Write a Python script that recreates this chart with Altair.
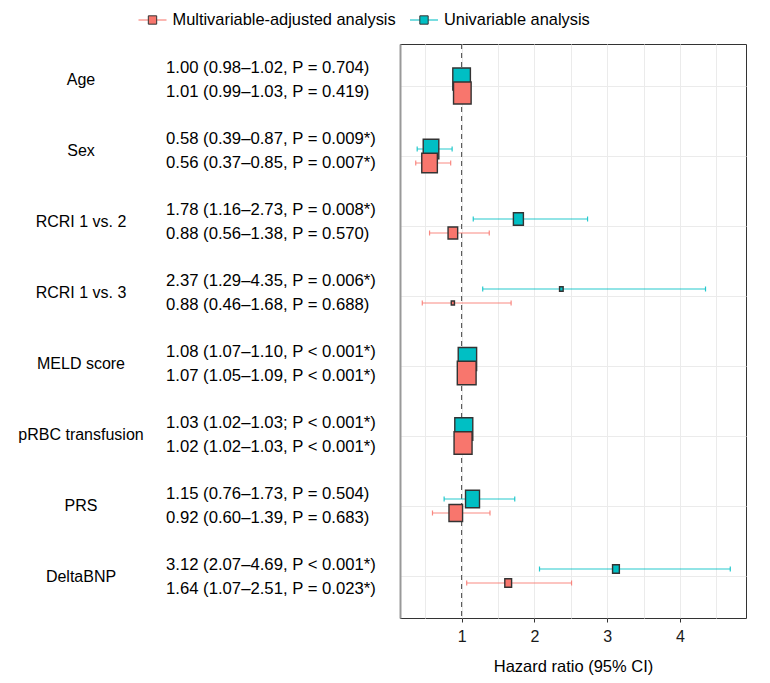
import altair as alt
import pandas as pd

UNI = "Univariable analysis"
MULTI = "Multivariable-adjusted analysis"

names = ["Age", "Sex", "RCRI 1 vs. 2", "RCRI 1 vs. 3", "MELD score",
         "pRBC transfusion", "PRS", "DeltaBNP"]

uni_hr = [1.00, 0.58, 1.78, 2.37, 1.08, 1.03, 1.15, 3.12]
uni_lo = [0.98, 0.39, 1.16, 1.29, 1.07, 1.02, 0.76, 2.07]
uni_hi = [1.02, 0.87, 2.73, 4.35, 1.10, 1.03, 1.73, 4.69]
uni_weight = [88, 78, 50, 18, 92, 90, 70, 34]
uni_labels = ["1.00 (0.98–1.02, P = 0.704)", "0.58 (0.39–0.87, P = 0.009*)",
              "1.78 (1.16–2.73, P = 0.008*)", "2.37 (1.29–4.35, P = 0.006*)",
              "1.08 (1.07–1.10, P < 0.001*)", "1.03 (1.02–1.03; P < 0.001*)",
              "1.15 (0.76–1.73, P = 0.504)", "3.12 (2.07–4.69, P < 0.001*)"]

multi_hr = [1.01, 0.56, 0.88, 0.88, 1.07, 1.02, 0.92, 1.64]
multi_lo = [0.99, 0.37, 0.56, 0.46, 1.05, 1.02, 0.60, 1.07]
multi_hi = [1.03, 0.85, 1.38, 1.68, 1.09, 1.03, 1.39, 2.51]
multi_weight = [88, 78, 48, 16, 94, 90, 68, 34]
multi_labels = ["1.01 (0.99–1.03, P = 0.419)", "0.56 (0.37–0.85, P = 0.007*)",
                "0.88 (0.56–1.38, P = 0.570)", "0.88 (0.46–1.68, P = 0.688)",
                "1.07 (1.05–1.09, P < 0.001*)", "1.02 (1.02–1.03, P < 0.001*)",
                "0.92 (0.60–1.39, P = 0.683)", "1.64 (1.07–2.51, P = 0.023*)"]

reference_line = [1.0]
x_ticks = [0.5, 1, 1.5, 2, 2.5, 3, 3.5, 4, 4.5]

RED = "#F8766D"
TEAL = "#00BFC4"
FONT = "Liberation Sans"

rows = []
for i, n in enumerate(names):
    rows.append(dict(var=n, group=UNI, hr=uni_hr[i], lo=uni_lo[i], hi=uni_hi[i],
                     weight=uni_weight[i], label=uni_labels[i]))
for i, n in enumerate(names):
    rows.append(dict(var=n, group=MULTI, hr=multi_hr[i], lo=multi_lo[i], hi=multi_hi[i],
                     weight=multi_weight[i], label=multi_labels[i]))
df = pd.DataFrame(rows)

xmin = min(uni_lo + multi_lo)
xmax = max(uni_hi + multi_hi)
pad = 0.05 * (xmax - xmin)

color_scale = alt.Scale(domain=[MULTI, UNI], range=[RED, TEAL])
x_scale = alt.Scale(domain=[xmin - pad, xmax + pad], nice=False, zero=False)
x_axis = alt.Axis(
    values=x_ticks,
    labelExpr="datum.value % 1 === 0 ? format(datum.value, 'd') : ''",
    tickOpacity={"condition": {"test": "datum.value % 1 === 0", "value": 1}, "value": 0},
    grid=True, gridColor="#EBEBEB", gridWidth=1,
    title="Hazard ratio (95% CI)", titleFontSize=16.5, titleFontWeight="normal",
    titleColor="#000000", titlePadding=14,
    labelFontSize=16, labelColor="#1a1a1a", labelPadding=6,
    tickSize=4, tickColor="#333333", domain=False,
)
y_scale = alt.Scale(type="band", paddingInner=0, paddingOuter=0.1)
y_enc = alt.Y("var:N", sort=names, scale=y_scale,
              axis=alt.Axis(title=None, labels=False, ticks=False, grid=True,
                            bandPosition=0.5, gridColor="#EBEBEB", gridWidth=1,
                            domainColor="#999999", domainWidth=2))
y_off = alt.YOffset("group:N", scale=alt.Scale(type="point", domain=[UNI, MULTI],
                                                range=[28, 42], padding=0))
col_enc = alt.Color("group:N", scale=color_scale, legend=None)

base = alt.Chart(df)

vline = alt.Chart(pd.DataFrame({"ref": reference_line})).mark_rule(
    strokeDash=[5, 4], color="#555555", strokeWidth=1.1
).encode(x=alt.X("ref:Q", scale=x_scale, axis=x_axis))

err = base.mark_rule(strokeWidth=1.2, opacity=0.85).encode(
    x=alt.X("lo:Q", scale=x_scale, axis=x_axis), x2="hi:Q",
    y=y_enc, yOffset=y_off, color=col_enc)

cap_lo = base.mark_tick(orient="vertical", size=5, thickness=1.2, opacity=0.85).encode(
    x=alt.X("lo:Q", scale=x_scale, axis=x_axis), y=y_enc, yOffset=y_off, color=col_enc)
cap_hi = base.mark_tick(orient="vertical", size=5, thickness=1.2, opacity=0.85).encode(
    x=alt.X("hi:Q", scale=x_scale, axis=x_axis), y=y_enc, yOffset=y_off, color=col_enc)

BOX = "M-0.8,-1L0.8,-1L0.8,1L-0.8,1Z"
pts = base.mark_point(shape=BOX, filled=True, stroke="#333333", strokeWidth=1.4,
                      opacity=1).encode(
    x=alt.X("hr:Q", scale=x_scale, axis=x_axis), y=y_enc, yOffset=y_off,
    fill=alt.Fill("group:N", scale=color_scale, legend=None),
    size=alt.Size("weight:Q", scale=alt.Scale(type="pow", exponent=2, domain=[0, 100],
                                              range=[0, 625]), legend=None),
)

right = alt.layer(vline, err, cap_lo, cap_hi, pts).properties(
    width=346, height=574,
    view=alt.ViewBackground(stroke="#333333", strokeWidth=1))

y_left = alt.Y("var:N", sort=names,
               scale=alt.Scale(type="band", paddingInner=0, paddingOuter=0), axis=None)
name_text = alt.Chart(pd.DataFrame({"var": names})).mark_text(
    align="center", baseline="middle", fontSize=16, font=FONT, color="#000000"
).encode(x=alt.value(72), y=y_left, text="var:N")
uni_text = base.transform_filter(alt.datum.group == UNI).mark_text(
    align="left", baseline="middle", fontSize=16.7, font=FONT, color="#000000", dy=-12
).encode(x=alt.value(157), y=y_left, text="label:N")
multi_text = base.transform_filter(alt.datum.group == MULTI).mark_text(
    align="left", baseline="middle", fontSize=16.7, font=FONT, color="#000000", dy=12
).encode(x=alt.value(157), y=y_left, text="label:N")
left = alt.layer(name_text, uni_text, multi_text).properties(width=389, height=568)

leg_df = pd.DataFrame({"group": [MULTI, UNI]})
leg_x = alt.X("group:N", scale=alt.Scale(type="point", domain=[MULTI, UNI],
                                         range=[143.5, 415], padding=0), axis=None)
leg_line = alt.Chart(leg_df).mark_tick(orient="horizontal", size=28, thickness=1.5,
                                       opacity=0.7).encode(
    x=leg_x, y=alt.value(11), color=col_enc)
leg_sq = alt.Chart(leg_df).mark_point(shape="square", filled=True, size=70,
                                      stroke="#333333", strokeWidth=1, opacity=1).encode(
    x=leg_x, y=alt.value(11), fill=alt.Fill("group:N", scale=color_scale, legend=None))
leg_txt = alt.Chart(leg_df).mark_text(align="left", baseline="middle", fontSize=16.4,
                                      font=FONT, color="#000000", dx=20).encode(
    x=leg_x, y=alt.value(11), text="group:N")
legend = alt.layer(leg_line, leg_sq, leg_txt).properties(width=738, height=22)

chart = alt.vconcat(
    legend,
    alt.hconcat(left, right, spacing=0),
    spacing=10,
).properties(padding=0).configure(font=FONT).configure_view(stroke="transparent")

chart.save("out.html", embed_options={"renderer": "svg", "actions": False})
